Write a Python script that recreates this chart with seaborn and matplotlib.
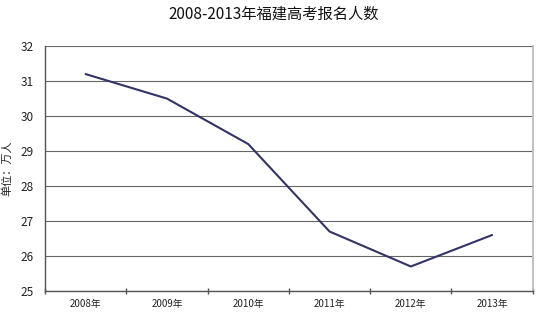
import matplotlib
matplotlib.use("Agg")
import matplotlib.pyplot as plt
import seaborn as sns
import pandas as pd

years = ["2008年", "2009年", "2010年", "2011年", "2012年", "2013年"]
applicants = [31.2, 30.5, 29.2, 26.7, 25.7, 26.6]
title = "2008-2013年福建高考报名人数"
ylabel = "单位：万人"

sns.set_theme(style="white")
plt.rcParams['font.family'] = ['Noto Sans CJK SC', 'DejaVu Sans']

df = pd.DataFrame({"pos": range(len(years)), "val": applicants})

fig = plt.figure(figsize=(5.42, 3.18), dpi=100)
ax = fig.add_axes([0.083, 0.085, 0.9, 0.77])
sns.lineplot(data=df, x="pos", y="val", ax=ax, color="#333366", linewidth=1.5)

ax.set_xlim(-0.5, len(years) - 0.5)
ax.set_ylim(25, 32)
ax.set_yticks(range(25, 33))
ax.set_yticklabels([str(v) for v in range(25, 33)], fontsize=8.5, color="#222222")
ax.set_xticks(range(len(years)))
ax.set_xticklabels(years, fontsize=7, color="#222222")
ax.set_xticks([i + 0.5 for i in range(-1, len(years))], minor=True)
ax.tick_params(axis='x', which='major', length=0, pad=6)
ax.tick_params(axis='x', which='minor', length=4, direction='inout', color="#555555", bottom=True)
ax.tick_params(axis='y', length=0, pad=8)
ax.grid(axis='y', color="#666666", linewidth=0.8)
ax.set_axisbelow(True)
for s in ["left", "bottom"]:
    ax.spines[s].set_color("#555555")
    ax.spines[s].set_linewidth(1.0)
ax.spines["right"].set_color("#bbbbbb")
ax.spines["top"].set_visible(False)
ax.set_xlabel("")
ax.set_ylabel(ylabel, fontsize=8)
ax.yaxis.set_label_coords(-0.068, 0.5)
fig.text(0.505, 0.955, title, ha="center", va="center", fontsize=11, color="#111111")

fig.savefig("out.png", dpi=100)
